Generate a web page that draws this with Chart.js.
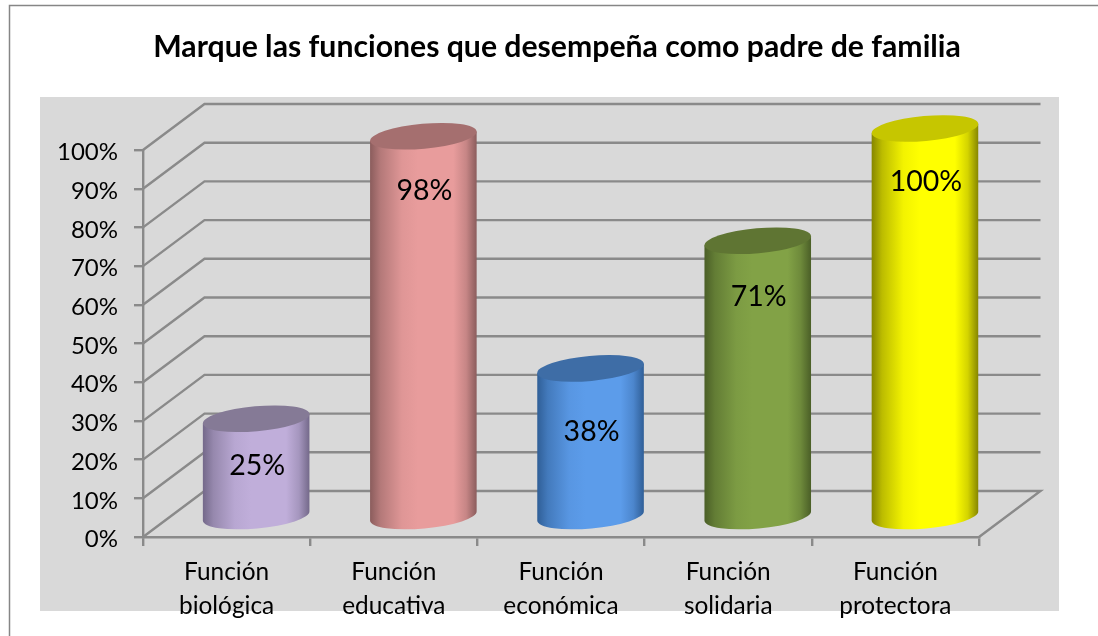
<!DOCTYPE html>
<html><head><meta charset="utf-8">
<style>html,body{margin:0;padding:0;background:#fff}canvas{display:block}</style>
<script src="https://cdn.jsdelivr.net/npm/chart.js@4"></script>
</head><body><canvas id="c" width="1098" height="636"></canvas>
<script>
const chartTitle = "Marque las funciones que desempeña como padre de familia";
const categories = [["Función","biológica"],["Función","educativa"],["Función","económica"],["Función","solidaria"],["Función","protectora"]];
const values = [25,98,38,71,100];
const mainColors = ["#C0AEDA","#E89C9C","#5C9CEA","#82A246","#FFFF00"];
const edgeColors = ["#736889","#8A5C5C","#2F5E96","#4A5E27","#858500"];
const topColors  = ["#857A96","#A56F6F","#3E6DA6","#5F7533","#C6C600"];
const labelDrop  = [47,55,63,56,53];

const GRID="#8A8A8A", DX=61.5, DY=46;

function mix(a,b,t){
  const p=h=>[1,3,5].map(i=>parseInt(h.substr(i,2),16)), A=p(a),B=p(b);
  return "rgb("+A.map((v,i)=>Math.round(v+(B[i]-v)*t)).join(",")+")";
}
const scene = {
  id:"scene",
  afterLayout(chart){ chart.titleBlock.left=16; chart.titleBlock.right=1098; },
  beforeDraw(chart){
    const c=chart.ctx,{x,y}=chart.scales;
    c.save();
    c.fillStyle="#fff";c.fillRect(0,0,1098,636);
    c.fillStyle="#D9D9D9";c.fillRect(40,97,1019,514);
    c.strokeStyle="#868686";c.lineWidth=1.5;
    c.beginPath();c.moveTo(9.5,636);c.lineTo(9.5,5.5);c.lineTo(1098,5.5);c.stroke();
    c.strokeStyle=GRID;c.lineWidth=2.4;
    const L=chart.chartArea.left,R=chart.chartArea.right;
    y.ticks.forEach(t=>{
      const p=y.getPixelForValue(t.value);
      c.beginPath();c.moveTo(L,p);c.lineTo(L+DX,p-DY);c.lineTo(R+DX,p-DY);
      if(t.value===0)c.lineTo(R,p);
      c.stroke();
    });
    c.restore();
  },
  afterDatasetsDraw(chart){
    const c=chart.ctx,meta=chart.getDatasetMeta(0),y=chart.scales.y,rot=-0.09;
    const base=y.getPixelForValue(0)-21;
    meta.data.forEach((el,i)=>{
      const cx=el.x+DX/2-1.2,a=el.width/2,b=12.5,top=el.y-21.5;
      const s=a*Math.sin(-rot),k=a*Math.cos(rot);
      const g=c.createLinearGradient(cx-a,0,cx+a,0);
      const e=edgeColors[i],m=mainColors[i];
      g.addColorStop(0,e);g.addColorStop(.1,mix(e,m,.45));g.addColorStop(.3,mix(e,m,.9));
      g.addColorStop(.45,m);g.addColorStop(.78,m);g.addColorStop(.9,mix(e,m,.65));g.addColorStop(1,e);
      c.save();
      c.fillStyle=g;c.beginPath();
      c.moveTo(cx-k,top+s);c.lineTo(cx+k,top-s);c.lineTo(cx+k,base-s);
      c.ellipse(cx,base,a,b,rot,0,Math.PI);
      c.closePath();c.fill();
      c.fillStyle=topColors[i];c.beginPath();
      c.ellipse(cx,top,a,b,rot,0,Math.PI*2);c.fill();
      c.fillStyle="#000";c.font="28.5px Lato";c.textAlign="center";c.textBaseline="middle";
      c.fillText(values[i]+"%",cx+1,top+labelDrop[i]);
      c.restore();
    });
  }
};
new Chart(document.getElementById("c"),{
  type:"bar",
  data:{labels:categories,datasets:[{data:values,backgroundColor:"transparent",borderWidth:0,barPercentage:.64,categoryPercentage:1}]},
  plugins:[scene],
  options:{
    responsive:false,animation:false,
    layout:{padding:{left:0,right:119,top:0,bottom:0}},
    plugins:{
      legend:{display:false},tooltip:{enabled:false},
      title:{display:true,text:chartTitle,color:"#000",font:{family:"Lato",size:30.2,weight:"bold",lineHeight:1.2},padding:{top:29,bottom:84.76}}
    },
    scales:{
      x:{
        afterFit(s){s.height=99;},
        grid:{drawOnChartArea:false,color:GRID,lineWidth:2.4,tickLength:9,tickColor:GRID},
        border:{display:true,color:GRID,width:2.4},
        ticks:{color:"#000",padding:10,maxRotation:0,autoSkip:false,font:{family:"Lato",size:24.4,lineHeight:1.36}}
      },
      y:{
        min:0,max:100,
        afterFit(s){s.width=143;},
        grid:{drawOnChartArea:false,color:GRID,lineWidth:2.4,tickLength:9,tickColor:GRID},
        border:{display:true,color:GRID,width:2.4},
        ticks:{stepSize:10,color:"#000",padding:16,labelOffset:2.5,font:{family:"Lato",size:24},callback:v=>v+"%"}
      }
    }
  }
});
</script></body></html>
